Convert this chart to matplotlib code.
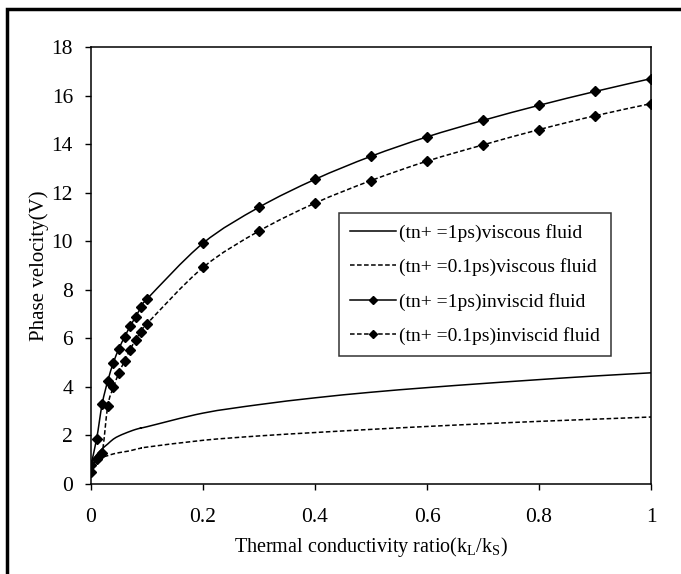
import numpy as np
import matplotlib
matplotlib.use("Agg")
import matplotlib.pyplot as plt
from matplotlib.patches import Rectangle, PathPatch
from matplotlib.path import Path
from matplotlib.lines import Line2D

plt.rcParams['font.family'] = ['Liberation Serif', 'DejaVu Serif']
plt.rcParams['mathtext.fontset'] = 'custom'
plt.rcParams['mathtext.rm'] = 'Liberation Serif'

# thermal conductivity ratio kL/kS
k = [0, 0.01, 0.02, 0.03, 0.04, 0.05, 0.06, 0.07, 0.08, 0.09, 0.1,
     0.2, 0.3, 0.4, 0.5, 0.6, 0.7, 0.8, 0.9, 1.0]

visc_1ps = [0.9, 1.2, 1.45, 1.65, 1.85, 1.98, 2.08, 2.17, 2.25, 2.31, 2.36,
            2.92, 3.27, 3.55, 3.78, 3.97, 4.14, 4.3, 4.45, 4.58]
visc_01ps = [0.9, 1.02, 1.1, 1.17, 1.24, 1.29, 1.33, 1.37, 1.43, 1.48, 1.52,
             1.8, 1.98, 2.12, 2.25, 2.37, 2.48, 2.58, 2.67, 2.76]
invisc_1ps = [0.8, 1.85, 3.3, 4.25, 5.0, 5.58, 6.06, 6.5, 6.9, 7.3, 7.62,
              9.92, 11.4, 12.55, 13.5, 14.3, 14.98, 15.6, 16.17, 16.7]
invisc_01ps = [0.5, 1.05, 1.28, 3.22, 3.98, 4.58, 5.07, 5.54, 5.95, 6.27, 6.6,
               8.92, 10.42, 11.57, 12.5, 13.3, 13.97, 14.6, 15.17, 15.67]

labels = ["(tn+ =1ps)viscous fluid", "(tn+ =0.1ps)viscous fluid",
          "(tn+ =1ps)inviscid fluid", "(tn+ =0.1ps)inviscid fluid"]


def smooth_path(x, y):
    # Catmull-Rom through the points, written as cubic Bezier segments
    x = np.asarray(x, float)
    y = np.asarray(y, float)
    verts = [(x[0], y[0])]
    codes = [Path.MOVETO]
    n = len(x)
    for i in range(n - 1):
        i0 = max(i - 1, 0)
        i3 = min(i + 2, n - 1)
        c1 = (x[i] + (x[i + 1] - x[i0]) / 6, y[i] + (y[i + 1] - y[i0]) / 6)
        c2 = (x[i + 1] - (x[i3] - x[i]) / 6, y[i + 1] - (y[i3] - y[i]) / 6)
        verts += [c1, c2, (x[i + 1], y[i + 1])]
        codes += [Path.CURVE4] * 3
    return Path(verts, codes)


fig = plt.figure(figsize=(6.81, 5.74), dpi=100)
ax = fig.add_axes([0.1336, 0.1568, 0.956 - 0.1336, 0.918 - 0.1568])

dash = (0, (3, 1.6))
series = [(visc_1ps, "-", None), (visc_01ps, dash, None),
          (invisc_1ps, "-", "D"), (invisc_01ps, dash, "D")]
handles = []
for (vals, ls, mk), lab in zip(series, labels):
    ax.add_patch(PathPatch(smooth_path(k, vals), fill=False, edgecolor="k",
                           lw=1.1, ls=ls))
    if mk:
        ax.plot(k, vals, ls="none", marker=mk, ms=4.8, color="k")
    handles.append(Line2D([], [], color="k", ls=ls, lw=1.1, marker=mk, ms=4.2))

ax.set_xlim(0, 1)
ax.set_ylim(0, 18)
ax.set_xticks([0, 0.2, 0.4, 0.6, 0.8, 1])
ax.set_xticklabels(["0", "0.2", "0.4", "0.6", "0.8", "1"])
ax.set_yticks(range(0, 19, 2))
ax.tick_params(direction="out", length=4, width=1, labelsize=15.5)
ax.tick_params(axis="x", pad=13)
ax.tick_params(axis="y", pad=9)
for s in ax.spines.values():
    s.set_linewidth(1.1)

ax.set_xlabel(r"Thermal conductivity ratio(k$_\mathregular{L}$/k$_\mathregular{S}$)",
              fontsize=14.5, labelpad=6)
ax.set_ylabel("Phase velocity(V)", fontsize=15, labelpad=2)

leg = ax.legend(handles, labels, loc="upper left",
                bbox_to_anchor=(0.443, 0.62), fontsize=14,
                frameon=True, fancybox=False, edgecolor="k",
                handlelength=2.4, handletextpad=0.15, labelspacing=0.85,
                borderpad=0.55, borderaxespad=0)
leg.get_frame().set_linewidth(1.1)

# outer border
fig.patches.append(Rectangle((7 / 681, -0.05), 1.1, 1 - 9 / 574 + 0.05,
                             transform=fig.transFigure, fill=False,
                             edgecolor="k", lw=2.5))

fig.savefig("out.png", dpi=100)
